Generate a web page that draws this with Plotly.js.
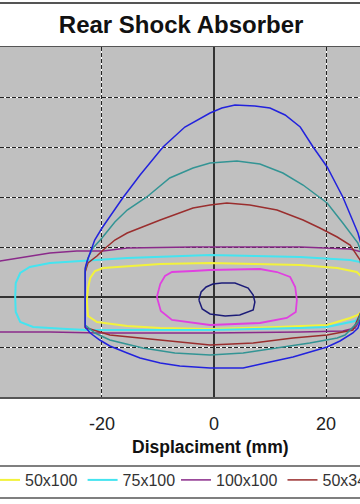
<!DOCTYPE html>
<html><head><meta charset="utf-8">
<script src="https://cdn.plot.ly/plotly-3.0.1.min.js"></script>
<style>html,body{margin:0;padding:0;background:#fff}#chart{width:360px;height:504px}</style>
</head><body><div id="chart"></div>
<script>
// Displacement (mm) / force loops
const names = ['10x100','25x100','50x100','75x100','100x100','50x340','75x340','100x340'];

const x10x100 = [-2.7,-2.3,-1.4,-0.2,1.4,3.75,6.1,7.0,7.3,7.0,4.6,2.0,-0.7,-2.1,-2.7];
const y10x100 = [-0.06,0.10,0.20,0.26,0.28,0.28,0.18,0.04,-0.10,-0.26,-0.36,-0.38,-0.34,-0.24,-0.06];

const x25x100 = [-10.2,-9.6,-8.75,-7.5,-3.75,-0.7,8.2,11.25,13.6,14.5,14.8,14.6,13.0,8.2,-0.7,-3.75,-7.5,-9.5,-10.2];
const y25x100 = [0,0.26,0.42,0.50,0.52,0.54,0.56,0.50,0.40,0.20,-0.06,-0.30,-0.42,-0.52,-0.56,-0.52,-0.46,-0.28,0];

const x50x100 = [-22.7,-22.5,-22.1,-21.25,-19.8,-15.5,-9.6,-0.7,8.2,15.4,22.0,25.5,27.0,27.5,27.0,25.7,24.3,20.2,11.25,-0.7,-9.6,-15.5,-20.9,-22.5,-22.7];
const y50x100 = [-0.06,0.18,0.38,0.52,0.58,0.62,0.66,0.68,0.66,0.64,0.58,0.50,0.34,0.04,-0.22,-0.36,-0.42,-0.56,-0.60,-0.64,-0.62,-0.58,-0.50,-0.38,-0.06];

const x75x100 = [-35.5,-35.4,-34.6,-32.9,-29.3,-23.4,-15.5,-0.7,11.25,15.4,24.3,26.1,27.5,27.5,26.4,25.2,20.2,15.4,-0.7,-22.7,-26.25,-32.3,-34.6,-35.4,-35.5];
const y75x100 = [0,0.28,0.48,0.60,0.68,0.72,0.78,0.84,0.80,0.80,0.74,0.70,0.44,-0.06,-0.36,-0.48,-0.60,-0.62,-0.66,-0.66,-0.64,-0.60,-0.50,-0.30,0];

const x100x100 = [-41.8,-40.4,-38.2,-34.6,-29.3,-24.5,-19.8,-15.5,-3.75,15.4,24.3,26.4,27.9,27.1,25.2,23.0,15.4,-0.7,-20.4,-29.3,-38.2,-40.4,-41.8];
const y100x100 = [-0.06,0.58,0.72,0.78,0.88,0.92,0.92,0.98,1.00,1.00,0.96,0.90,0.44,-0.26,-0.62,-0.68,-0.70,-0.72,-0.72,-0.70,-0.70,-0.62,-0.06];

const x50x340 = [-23.0,-23.0,-22.5,-20.9,-19.8,-17.7,-15.5,-9.6,-3.75,-0.7,2.3,6.4,11.25,15.9,18.9,22.0,24.3,26.1,26.8,26.4,24.8,20.2,14.1,7.0,-0.7,-12.7,-18.6,-22.1,-23.0];
const y50x340 = [-0.62,0.50,0.68,0.82,0.94,1.14,1.28,1.54,1.78,1.84,1.88,1.84,1.74,1.54,1.38,1.20,1.04,0.74,0.24,-0.26,-0.66,-0.76,-0.82,-0.92,-0.96,-0.82,-0.76,-0.64,-0.62];

const x75x340 = [-23.0,-23.0,-22.5,-21.6,-20.0,-17.7,-15.5,-12.0,-7.9,-3.75,-0.7,4.1,8.2,12.3,15.9,20.2,23.0,25.7,26.6,27.1,26.6,25.7,23.4,22.0,17.1,11.25,5.2,-0.7,-7.0,-12.7,-18.6,-21.25,-23.0];
const y75x340 = [-0.56,0.54,0.78,0.98,1.18,1.50,1.74,2.00,2.38,2.58,2.68,2.72,2.66,2.48,2.24,1.88,1.48,1.08,0.78,0.34,-0.16,-0.50,-0.76,-0.82,-0.92,-1.02,-1.12,-1.16,-1.12,-1.02,-0.86,-0.72,-0.56];

const x100x340 = [-23.0,-23.0,-22.7,-22.1,-21.3,-20.0,-18.2,-16.3,-13.2,-9.1,-5.2,-0.7,1.4,3.75,7.3,10.0,12.7,15.4,17.7,20.2,23.0,24.6,25.7,26.8,27.5,26.8,25.7,24.8,22.5,20.2,17.1,14.1,10.0,5.2,-0.7,-6.1,-9.6,-13.2,-15.5,-18.6,-20.4,-22.1,-23.0];
const y100x340 = [-0.60,0.58,0.70,0.90,1.14,1.38,1.68,1.98,2.44,3.00,3.40,3.68,3.78,3.84,3.82,3.78,3.64,3.40,3.00,2.60,2.00,1.58,1.28,0.84,0.24,-0.26,-0.62,-0.72,-0.88,-1.00,-1.10,-1.20,-1.30,-1.42,-1.42,-1.38,-1.32,-1.22,-1.12,-0.98,-0.86,-0.72,-0.60];

const xTickVals = [-40,-20,0,20,40];
const xTickText = ['-40','-20','0','20','40'];

const FONT = 'Liberation Sans, Arial, sans-serif';
const xs = [x10x100,x25x100,x50x100,x75x100,x100x100,x50x340,x75x340,x100x340];
const ys = [y10x100,y25x100,y50x100,y75x100,y100x100,y50x340,y75x340,y100x340];
const colors = ['#1c1c78','#e040e0','#f2f23c','#44e4f0','#8a2a8a','#9a2e2e','#339494','#2222dd'];
const widths = [1.5,1.8,2,2,1.5,1.5,1.5,1.5];
const legendOf = [null,null,'legend','legend','legend2','legend2',null,null];

const traces = names.map((n,i)=>({
  type:'scatter', mode:'lines', name:n, x:xs[i], y:ys[i],
  line:{color:colors[i], width:widths[i]},
  showlegend: legendOf[i]!==null,
  legend: legendOf[i]||'legend',
  hoverinfo:'skip'
}));
traces.push({type:'scatter', x:[null], y:[null], xaxis:'x2', yaxis:'y2', showlegend:false, hoverinfo:'skip'});

const XR = [-38.21, 26.07], YR = [-2, 5];

const layout = {
  width:360, height:504,
  margin:{l:0, r:0, t:47, b:107, autoexpand:false},
  paper_bgcolor:'#ffffff', plot_bgcolor:'#c0c0c0',
  title:{text:'<b>Rear Shock Absorber</b>', x:0.503, xanchor:'center', y:1-25/504, yanchor:'middle',
         font:{family:FONT, size:24, color:'#111'}},
  xaxis:{range:XR, tickvals:xTickVals, ticktext:xTickText, showgrid:true, gridcolor:'#ffffff', gridwidth:1,
         zeroline:true, zerolinecolor:'#333', zerolinewidth:1.3,
         showline:true, mirror:true, linecolor:'#555', linewidth:1.5,
         ticks:'', ticklabelstandoff:10, tickfont:{family:FONT, size:18, color:'#222'}},
  yaxis:{range:YR, dtick:1, showgrid:true, gridcolor:'#ffffff', gridwidth:1,
         zeroline:true, zerolinecolor:'#333', zerolinewidth:1.3,
         showticklabels:false, ticks:''},
  xaxis2:{range:XR, tickvals:xTickVals, overlaying:'x', anchor:'y2', showgrid:true, gridcolor:'#222', gridwidth:1,
          griddash:'4px,2px', zeroline:false, showticklabels:false, ticks:'', showline:false},
  yaxis2:{range:YR, dtick:1, overlaying:'y', anchor:'x2', showgrid:true, gridcolor:'#222', gridwidth:1,
          griddash:'4px,2px', zeroline:false, showticklabels:false, ticks:'', showline:false},
  legend:{orientation:'h', x:-15/360, xanchor:'left', y:(397-480)/350, yanchor:'middle',
          font:{family:FONT, size:16, color:'#333'}, bgcolor:'rgba(0,0,0,0)', borderwidth:0},
  legend2:{orientation:'h', x:176/360, xanchor:'left', y:(397-480)/350, yanchor:'middle',
          font:{family:FONT, size:16, color:'#333'}, bgcolor:'rgba(0,0,0,0)', borderwidth:0},
  annotations:[{text:'<b>Displaciment (mm)</b>', xref:'paper', yref:'paper', x:210/360, y:(397-447)/350,
                xanchor:'center', yanchor:'middle', showarrow:false, font:{family:FONT, size:17.5, color:'#111'}}],
  shapes:[
    {type:'rect', xref:'paper', yref:'paper', x0:-0.05, x1:1.05, y0:(397-498)/350, y1:(397-466)/350,
     line:{color:'#555', width:1.5}, fillcolor:'rgba(0,0,0,0)'},
    {type:'line', xref:'paper', yref:'paper', x0:-0.05, x1:1.05, y0:(397-3)/350, y1:(397-3)/350,
     line:{color:'#555', width:2}}
  ],
  showlegend:true
};

Plotly.newPlot('chart', traces, layout, {staticPlot:true, displayModeBar:false});
</script></body></html>
